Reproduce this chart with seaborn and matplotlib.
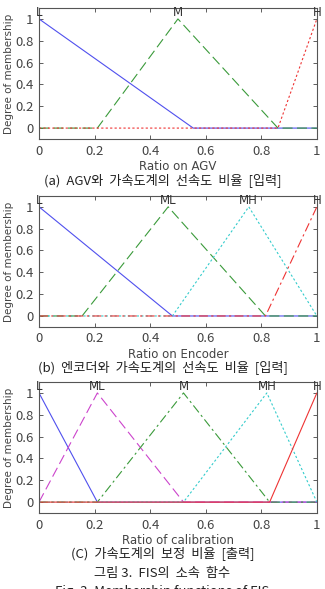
import matplotlib
matplotlib.use("Agg")
import matplotlib.pyplot as plt
import seaborn as sns
import pandas as pd

sns.set_style("ticks")
plt.rcParams['font.family'] = ['Noto Sans CJK KR', 'DejaVu Sans']

# (a) Ratio on AGV  -- breakpoints
agv_L_x = [0, 0.555, 1]
agv_L_y = [1, 0, 0]
agv_M_x = [0, 0.21, 0.5, 0.86, 1]
agv_M_y = [0, 0, 1, 0, 0]
agv_H_x = [0, 0.86, 1]
agv_H_y = [0, 0, 1]

# (b) Ratio on Encoder
enc_L_x = [0, 0.48, 1]
enc_L_y = [1, 0, 0]
enc_ML_x = [0, 0.155, 0.465, 0.815, 1]
enc_ML_y = [0, 0, 1, 0, 0]
enc_MH_x = [0, 0.48, 0.755, 1]
enc_MH_y = [0, 0, 1, 0]
enc_H_x = [0, 0.815, 1]
enc_H_y = [0, 0, 1]

# (c) Ratio of calibration
cal_L_x = [0, 0.21, 1]
cal_L_y = [1, 0, 0]
cal_ML_x = [0, 0.21, 0.52, 1]
cal_ML_y = [0, 1, 0, 0]
cal_M_x = [0, 0.21, 0.52, 0.83, 1]
cal_M_y = [0, 0, 1, 0, 0]
cal_MH_x = [0, 0.52, 0.82, 1]
cal_MH_y = [0, 0, 1, 0]
cal_H_x = [0, 0.83, 1]
cal_H_y = [0, 0, 1]

xticks = [0, 0.2, 0.4, 0.6, 0.8, 1]
xtick_labels = ['0', '0.2', '0.4', '0.6', '0.8', '1']
yticks = [0, 0.2, 0.4, 0.6, 0.8, 1]
ytick_labels = ['0', '0.2', '0.4', '0.6', '0.8', '1']

BLUE = '#5050ee'
GREEN = '#3a9a3a'
RED = '#ee3333'
CYAN = '#33cccc'
MAGENTA = '#cc44cc'

panels = [
    dict(xlabel='Ratio on AGV',
         caption='(a)  AGV와  가속도계의  선속도  비율  [입력]',
         mfs=[('L', agv_L_x, agv_L_y, BLUE, '-'),
              ('M', agv_M_x, agv_M_y, GREEN, (0, (9, 4))),
              ('H', agv_H_x, agv_H_y, RED, (0, (2, 2)))]),
    dict(xlabel='Ratio on Encoder',
         caption='(b)  엔코더와  가속도계의  선속도  비율  [입력]',
         mfs=[('L', enc_L_x, enc_L_y, BLUE, '-'),
              ('ML', enc_ML_x, enc_ML_y, GREEN, (0, (9, 4))),
              ('MH', enc_MH_x, enc_MH_y, CYAN, (0, (2, 2))),
              ('H', enc_H_x, enc_H_y, RED, (0, (8, 3, 2, 3)))]),
    dict(xlabel='Ratio of calibration',
         caption='(C)  가속도계의  보정  비율  [출력]',
         mfs=[('L', cal_L_x, cal_L_y, BLUE, '-'),
              ('ML', cal_ML_x, cal_ML_y, MAGENTA, (0, (9, 4))),
              ('M', cal_M_x, cal_M_y, GREEN, (0, (8, 3, 2, 3))),
              ('MH', cal_MH_x, cal_MH_y, CYAN, (0, (2, 2))),
              ('H', cal_H_x, cal_H_y, RED, '-')]),
]

fig = plt.figure(figsize=(3.25, 5.89), dpi=100)
bottoms = [0.764, 0.445, 0.129]
cap_y = [0.694, 0.377, 0.061]

for p, b, cy in zip(panels, bottoms, cap_y):
    ax = fig.add_axes([0.12, b, 0.855, 0.2224])
    for name, xs, ys, c, ls in p['mfs']:
        df = pd.DataFrame({'x': xs, 'y': ys})
        sns.lineplot(data=df, x='x', y='y', ax=ax, color=c, linewidth=0.8,
                     linestyle=ls, estimator=None, sort=False)
        peak = xs[ys.index(max(ys))]
        ax.text(peak, 1.0, name, ha='center', va='bottom', fontsize=8.5,
                color='#333333', family=['DejaVu Sans'])
    ax.set_xlim(0, 1)
    ax.set_ylim(-0.1, 1.1)
    ax.set_xticks(xticks)
    ax.set_xticklabels(xtick_labels)
    ax.set_yticks(yticks)
    ax.set_yticklabels(ytick_labels)
    ax.tick_params(direction='in', top=True, right=True, length=3,
                   labelsize=9.5, colors='#444444', width=0.6, pad=4)
    for s in ax.spines.values():
        s.set_color('#555555')
        s.set_linewidth(0.8)
    ax.set_xlabel(p['xlabel'], fontsize=8.5, color='#444444', labelpad=2,
                  family=['DejaVu Sans'])
    ax.set_ylabel('Degree of membership', fontsize=7.5, color='#444444',
                  labelpad=1, family=['DejaVu Sans'])
    fig.text(0.5, cy, p['caption'], ha='center', va='center', fontsize=9.5,
             color='#222222')

fig.text(0.5, 0.027, '그림 3.  FIS의  소속  함수', ha='center', va='center',
         fontsize=9.5, color='#222222')
fig.text(0.5, 0.006, 'Fig. 3. Membership functions of FIS', ha='center',
         va='top', fontsize=9.5, color='#222222')

fig.savefig('out.png', dpi=100)
